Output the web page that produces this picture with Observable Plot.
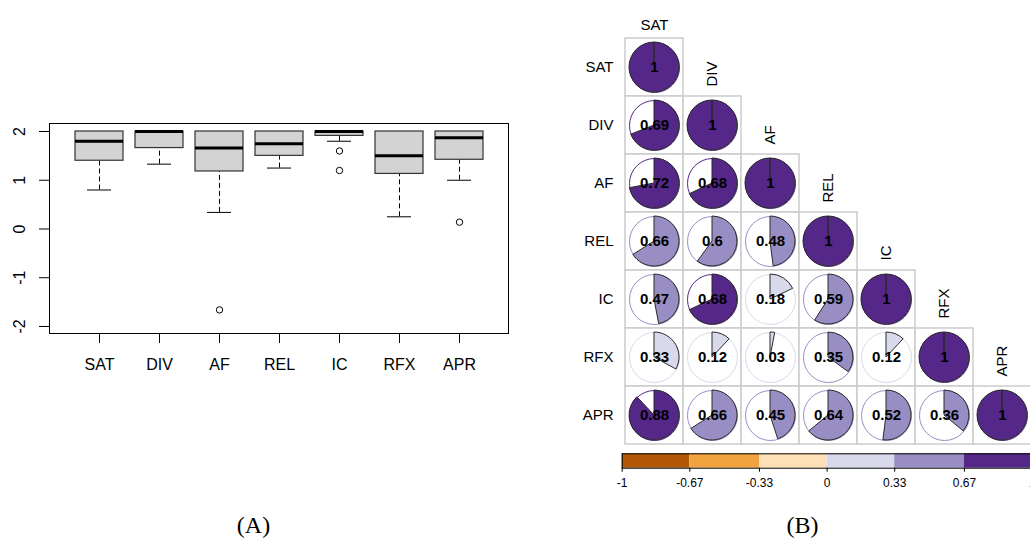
<!DOCTYPE html>
<html><head><meta charset="utf-8">
<script src="https://cdn.jsdelivr.net/npm/d3@7"></script>
<script src="https://cdn.jsdelivr.net/npm/@observablehq/plot@0.6"></script>
<style>
html,body{margin:0;padding:0;background:#fff;}
#root{position:relative;width:1030px;height:541px;overflow:hidden;font-family:"Liberation Sans",Arial,sans-serif;}
.panel{position:absolute;}
.panel svg{display:block;overflow:visible;max-width:none !important;}
.cap{position:absolute;font-family:"Liberation Serif","Times New Roman",serif;font-size:24px;line-height:24px;color:#000;transform:translateX(-50%);white-space:nowrap;}
</style></head><body><div id="root"></div>
<script>
// ---------- Panel A: boxplot summary values ----------
const boxVars = ["SAT","DIV","AF","REL","IC","RFX","APR"];
const boxQ1 = [1.4, 1.66, 1.18, 1.5, 1.91, 1.13, 1.42];
const boxMedian = [1.8, 2.0, 1.66, 1.75, 2.0, 1.5, 1.87];
const boxQ3 = [2, 2, 2, 2, 2, 2, 2];
const whiskerLow = [0.8, 1.33, 0.34, 1.25, 1.8, 0.25, 1.0];
const whiskerHigh = [2, 2, 2, 2, 2, 2, 2];
const outlierVar = ["AF", "IC", "IC", "APR"];
const outlierValue = [-1.66, 1.6, 1.2, 0.14];
const yTicksA = [-2, -1, 0, 1, 2];

// ---------- Panel B: correlation matrix (lower triangle) ----------
const corrVars = ["SAT","DIV","AF","REL","IC","RFX","APR"];
const corrRows = [
  [1],
  [0.69, 1],
  [0.72, 0.68, 1],
  [0.66, 0.6, 0.48, 1],
  [0.47, 0.68, 0.18, 0.59, 1],
  [0.33, 0.12, 0.03, 0.35, 0.12, 1],
  [0.88, 0.66, 0.45, 0.64, 0.52, 0.36, 1]
];
const legendBreaks = [-1, -0.67, -0.33, 0, 0.33, 0.67, 1];
const legendLabels = ["-1", "-0.67", "-0.33", "0", "0.33", "0.67", "1"];
const colorThresholds = [-2/3, -1/3, 0, 1/3, 2/3];
const palette = ["#B35806", "#F1A340", "#FEE0B6", "#D8DAEB", "#998EC3", "#542788"];

// ---------- tables ----------
const boxes = boxVars.map((v, i) => ({v, q1: boxQ1[i], med: boxMedian[i], q3: boxQ3[i], wlo: whiskerLow[i], whi: whiskerHigh[i]}));
const outliers = outlierVar.map((v, i) => ({v, value: outlierValue[i]}));
const cellsB = [];
corrRows.forEach((row, i) => row.forEach((val, j) => cellsB.push({row: corrVars[i], col: corrVars[j], val})));
const legendBins = palette.map((c, i) => ({x1: legendBreaks[i], x2: legendBreaks[i + 1], mid: (legendBreaks[i] + legendBreaks[i + 1]) / 2}));

const font = "'Liberation Sans', Arial, sans-serif";
const root = document.getElementById("root");
function place(node, left, top, w) {
  const d = document.createElement("div");
  d.className = "panel"; d.style.left = left + "px"; d.style.top = top + "px"; d.style.width = w + "px";
  d.appendChild(node); root.appendChild(d);
}

// ---------- Plot A ----------
const plotA = Plot.plot({
  width: 520, height: 541,
  marginLeft: 49, marginRight: 12, marginTop: 123, marginBottom: 208,
  style: {fontFamily: font, fontSize: "16px", color: "#000", background: "transparent"},
  x: {type: "band", domain: boxVars, paddingInner: 0.2, paddingOuter: 0.38, label: null},
  y: {domain: [-2.144, 2.164], label: null},
  marks: [
    Plot.ruleX(boxes, {x: "v", y1: "wlo", y2: "q1", stroke: "#000", strokeDasharray: "5,3"}),
    Plot.ruleX(boxes, {x: "v", y1: "q3", y2: "whi", stroke: "#000", strokeDasharray: "5,3"}),
    Plot.tickY(boxes, {x: "v", y: "wlo", stroke: "#000", insetLeft: 12, insetRight: 12}),
    Plot.tickY(boxes, {x: "v", y: "whi", stroke: "#000", insetLeft: 12, insetRight: 12}),
    Plot.barY(boxes, {x: "v", y1: "q1", y2: "q3", fill: "#d3d3d3", stroke: "#333", strokeWidth: 1.2}),
    Plot.tickY(boxes, {x: "v", y: "med", stroke: "#000", strokeWidth: 3}),
    Plot.dot(outliers, {x: "v", y: "value", r: 3.2, stroke: "#000", strokeWidth: 1, fill: "none"}),
    Plot.frame({stroke: "#000", strokeWidth: 1}),
    Plot.axisY({ticks: yTicksA, tickFormat: d => String(d), tickSize: 10, tickPadding: 15, tickRotate: -90, fontSize: 16, label: null, stroke: "#000"}),
    Plot.axisX({tickSize: 10, tickPadding: 15, fontSize: 16, label: null, stroke: "#000"})
  ]
});
place(plotA, 0, 0, 520);

// ---------- Plot B ----------
function pieMark(index, scales, values, dimensions, context) {
  const x = scales.x, y = scales.y;
  const bw = x.bandwidth ? x.bandwidth() : (x(corrVars[1]) - x(corrVars[0]));
  const bh = y.bandwidth ? y.bandwidth() : (y(corrVars[1]) - y(corrVars[0]));
  const color = scales.color;
  const R = 25;
  const g = d3.create("svg:g");
  for (const d of cellsB) {
    const cx = x(d.col) + bw / 2, cy = y(d.row) + bh / 2;
    const p = d3.path();
    p.moveTo(cx, cy);
    p.lineTo(cx, cy - R);
    p.arc(cx, cy, R, -Math.PI / 2, -Math.PI / 2 + 2 * Math.PI * d.val);
    p.closePath();
    g.append("path").attr("d", p.toString()).attr("fill", color(d.val)).attr("stroke", "#2a2a2a").attr("stroke-width", 1);
  }
  return g.node();
}

const plotB = Plot.plot({
  width: 475, height: 450,
  marginLeft: 62, marginRight: 2, marginTop: 36, marginBottom: 4.5,
  style: {fontFamily: font, fontSize: "15px", color: "#000", background: "transparent"},
  x: {type: "band", domain: corrVars, padding: 0, axis: null},
  y: {type: "band", domain: corrVars, padding: 0, label: null},
  color: {type: "threshold", domain: colorThresholds, range: palette},
  marks: [
    Plot.axisY({tickSize: 0, tickPadding: 9, fontSize: 15, label: null}),
    Plot.cell(cellsB, {x: "col", y: "row", fill: "white", stroke: "#cccccc", strokeWidth: 1.5}),
    Plot.dot(cellsB, {x: "col", y: "row", r: 25, stroke: "val", fill: "white", strokeWidth: 1}),
    pieMark,
    Plot.text(cellsB, {x: "col", y: "row", text: d => String(d.val), fontWeight: "bold", fontSize: 15, fill: "#000"}),
    Plot.text([corrVars[0]], {x: d => d, y: d => d, dy: -38, lineAnchor: "bottom", fontSize: 15, fill: "#000"}),
    Plot.text(corrVars.slice(1), {x: d => d, y: d => d, dy: -39, rotate: -90, textAnchor: "start", fontSize: 15, fill: "#000"})
  ]
});
place(plotB, 560, 0, 475);

// ---------- Plot C: colour bar ----------
const plotC = Plot.plot({
  width: 480, height: 60,
  marginLeft: 61.7, marginRight: 8.5, marginTop: 13.3, marginBottom: 32.3,
  style: {fontFamily: font, fontSize: "12px", color: "#000", background: "transparent"},
  x: {domain: [-1, 1], label: null},
  color: {type: "threshold", domain: colorThresholds, range: palette},
  marks: [
    Plot.rect(legendBins, {x1: "x1", x2: "x2", fill: "mid"}),
    Plot.frame({stroke: "#000", strokeWidth: 1}),
    Plot.axisX({ticks: legendBreaks, tickFormat: d => legendLabels[legendBreaks.indexOf(d)], tickSize: 4, tickPadding: 6, fontSize: 12, label: null, stroke: "#000"})
  ]
});
place(plotC, 560, 440, 480);

// ---------- captions ----------
[["(A)", 253.5], ["(B)", 802.5]].forEach(([t, x]) => {
  const c = document.createElement("div");
  c.className = "cap"; c.textContent = t; c.style.left = x + "px"; c.style.top = "513px";
  root.appendChild(c);
});
</script></body></html>
